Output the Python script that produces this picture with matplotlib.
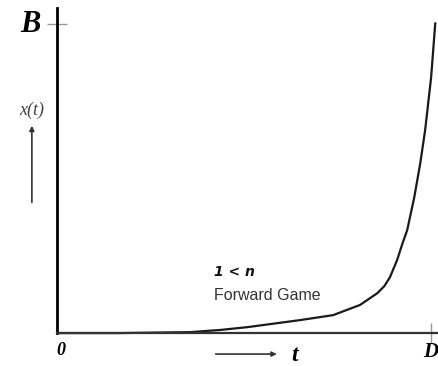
import matplotlib.pyplot as plt

# curve (t scaled so D = 1, x scaled so B = 1)
t_vals = [0.0, 0.168, 0.356, 0.436, 0.508, 0.570, 0.650, 0.738, 0.810, 0.856,
          0.875, 0.890, 0.909, 0.922, 0.936, 0.955, 0.971, 0.984, 1.000, 1.011]
x_vals = [0.0, 0.0, 0.003, 0.010, 0.019, 0.029, 0.042, 0.058, 0.091, 0.129,
          0.152, 0.181, 0.236, 0.285, 0.333, 0.440, 0.550, 0.657, 0.828, 1.003]
x_ticks = [1.0]
y_ticks = [1.0]

fig = plt.figure(figsize=(4.38, 3.66), dpi=100)
ax = fig.add_axes([0.130, 0.090, 0.868, 0.888])

ax.plot(t_vals, x_vals, color="#1a1a1a", lw=1.6, clip_on=False,
        solid_joinstyle="round", solid_capstyle="round")

ax.set_xlim(0, 1.016)
ax.set_ylim(0, 1.052)
for side in ["top", "right"]:
    ax.spines[side].set_visible(False)
ax.spines["left"].set_linewidth(2.0)
ax.spines["bottom"].set_linewidth(1.6)
ax.spines["bottom"].set_color("#333333")

ax.set_xticks(x_ticks)
ax.set_yticks(y_ticks)
ax.set_xticklabels([""])
ax.set_yticklabels([""])
ax.tick_params(direction="inout", length=14, width=1.0, color="#999999")

serif = "Liberation Serif"
ax.text(-0.072, 1.0, "B", fontsize=22, fontweight="bold", fontstyle="italic",
        family=serif, ha="center", va="center")
ax.text(0.011, -0.058, "0", fontsize=13, fontweight="bold", fontstyle="italic",
        family=serif, ha="center", va="center")
ax.text(1.0, -0.062, "D", fontsize=15, fontweight="bold", fontstyle="italic",
        family=serif, ha="center", va="center")
ax.text(0.636, -0.072, "t", fontsize=17, fontweight="bold", fontstyle="italic",
        family=serif, ha="center", va="center")
ax.text(-0.067, 0.722, "x(t)", fontsize=13, fontstyle="italic", color="#444444",
        family=serif, ha="center", va="center")

ax.annotate("", xy=(-0.067, 0.68), xytext=(-0.067, 0.414),
            arrowprops=dict(arrowstyle="-|>", color="#333333", lw=1.2,
                            mutation_scale=7), annotation_clip=False)
ax.annotate("", xy=(0.595, -0.068), xytext=(0.417, -0.068),
            arrowprops=dict(arrowstyle="-|>", color="#333333", lw=1.2,
                            mutation_scale=7), annotation_clip=False)

ax.text(0.42, 0.198, "1 < n", fontsize=10, fontweight="bold", fontstyle="italic",
        family="DejaVu Sans", ha="left", va="center", color="#111111")
ax.text(0.42, 0.12, "Forward Game", fontsize=11.5, family="Liberation Sans",
        ha="left", va="center", color="#333333")

fig.savefig("out.png", dpi=100)
